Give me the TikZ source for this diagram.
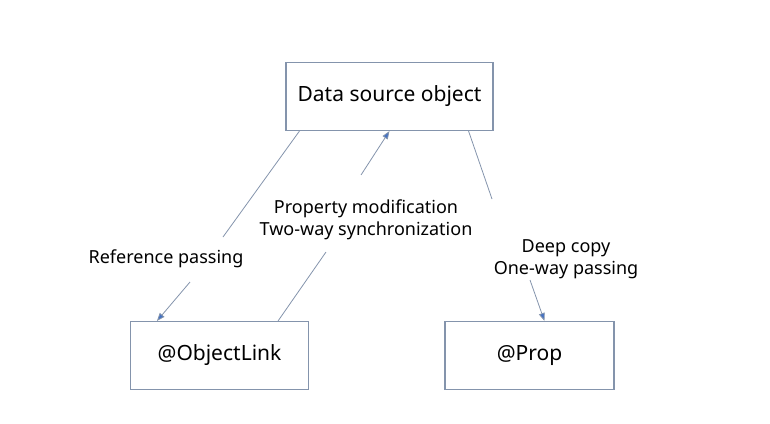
\documentclass[tikz,border=0pt]{standalone}
\usepackage{fontspec}
\setmainfont{Noto Sans}
\usetikzlibrary{arrows.meta,positioning}
\definecolor{borde}{RGB}{132,148,172}
\definecolor{flechaazul}{RGB}{68,114,196}

\begin{document}
\begin{tikzpicture}[x=1pt, y=-1pt,
  caja/.style={rectangle, draw=borde, line width=1.1pt,
    minimum height=68pt, font=\fontsize{21}{24}\selectfont},
  etiqueta/.style={align=center, font=\fontsize{18}{22}\selectfont},
  linea/.style={draw=borde, line width=0.8pt},
  flecha/.style={draw=borde, line width=0.8pt,
    -{Triangle[length=8pt, width=6pt, fill=flechaazul]}}
]
\useasboundingbox (0,0) rectangle (770,423);
\node[caja, minimum width=207pt] (src) at (389.5,96.5) {Data source object};
\node[caja, minimum width=178pt] (ol) at (219.5,355.5) {@ObjectLink};
\node[caja, minimum width=169pt] (prop) at (529.5,355.5) {@Prop};

\node[etiqueta] (ref) at (166,259) {Reference passing};
\node[etiqueta] (sync) at (366,220) {Property modification\\Two-way synchronization};
\node[etiqueta] (copy) at (566,259) {Deep copy\\One-way passing};

\coordinate (r1) at (223,237);
\coordinate (r2) at (190,282);
\coordinate (s1) at (326,252);
\coordinate (s2) at (361,175);
\coordinate (c1) at (492,199);
\coordinate (c2) at (530,280);

\draw[linea] ([xshift=14pt]src.south west) -- (r1);
\draw[flecha] (r2) -- ([xshift=27pt]ol.north west);
\draw[linea] ([xshift=-31pt]ol.north east) -- (s1);
\draw[flecha] (s2) -- ([xshift=104pt]src.south west);
\draw[linea] ([xshift=-25pt]src.south east) -- (c1);
\draw[flecha] (c2) -- ([xshift=100pt]prop.north west);
\end{tikzpicture}
\end{document}
